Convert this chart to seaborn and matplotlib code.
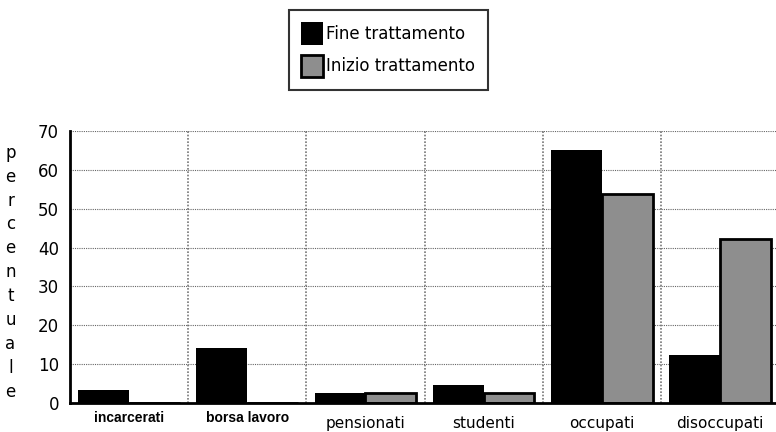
import matplotlib
matplotlib.use('Agg')
import matplotlib.pyplot as plt
import seaborn as sns
import pandas as pd
import numpy as np
from matplotlib.patches import Patch

categorie = ['incarcerati', 'borsa lavoro', 'pensionati', 'studenti', 'occupati', 'disoccupati']
fine = [3.3, 14.2, 2.6, 4.6, 65.0, 12.3]
inizio = [0, 0, 2.5, 2.5, 53.8, 42.1]
serie = ['Fine trattamento', 'Inizio trattamento']

df = pd.DataFrame({
    'categoria': categorie * 2,
    'valore': fine + inizio,
    'serie': [serie[0]] * 6 + [serie[1]] * 6,
})

sns.set_style('white')
plt.rcParams['font.family'] = ['DejaVu Sans']
plt.rcParams['text.color'] = 'black'
plt.rcParams['xtick.color'] = 'black'
plt.rcParams['ytick.color'] = 'black'

fig = plt.figure(figsize=(7.76, 4.32), dpi=100)
ax = fig.add_axes([0.0902, 0.0671, 0.9137, 0.6297])

sns.barplot(data=df, x='categoria', y='valore', hue='serie', order=categorie,
            hue_order=serie, palette=['black', '#8e8e8e'], width=0.86,
            saturation=1, ax=ax, legend=False)

# bordi: neri senza bordo, grigi con bordo nero
for bar, s in zip(ax.patches, [serie[0]] * 6 + [serie[1]] * 6):
    bar.set_edgecolor('black')
    bar.set_linewidth(0 if s == serie[0] else 2)

ax.set_xlim(-0.5, 5.5)
ax.set_ylim(0, 70)
ax.set_yticks(range(0, 80, 10))
ax.tick_params(axis='y', direction='out', length=5, width=1.5, labelsize=12, pad=3)

ax.set_xticks(range(6))
ax.set_xticklabels(categorie)
ax.tick_params(axis='x', which='major', length=0, pad=9, labelsize=11)
ax.set_xticks(np.arange(-0.5, 6, 1), minor=True)
ax.tick_params(axis='x', which='minor', direction='out', length=8, width=2)
for lab in ax.get_xticklabels()[:2]:
    lab.set_fontfamily('Liberation Sans')
    lab.set_fontweight('bold')
    lab.set_fontsize(10)
    lab.set_y(0.015)

ax.grid(axis='y', which='major', color='#666666', linestyle=(0, (1, 1)), linewidth=0.8)
ax.grid(axis='x', which='minor', color='#777777', linestyle=(0, (1, 1)), linewidth=1.2)
ax.grid(axis='x', which='major', visible=False)
ax.set_axisbelow(True)

for side in ['top', 'right']:
    ax.spines[side].set_visible(False)
for side in ['left', 'bottom']:
    ax.spines[side].set_linewidth(2)
    ax.spines[side].set_color('black')

ax.set_xlabel('')
ax.set_ylabel('')
fig.text(0.0135, 0.37, '\n'.join('percentuale'), ha='center', va='center',
         fontsize=12, linespacing=1.42)

handles = [Patch(facecolor='black', edgecolor='black', linewidth=0),
           Patch(facecolor='#8e8e8e', edgecolor='black', linewidth=2)]
leg = fig.legend(handles, serie, loc='upper center', bbox_to_anchor=(0.5, 0.978),
                 frameon=True, fancybox=False, fontsize=12, handlelength=1.3,
                 handleheight=1.7, handletextpad=0.2, borderpad=0.75,
                 labelspacing=0.6, borderaxespad=0)
leg.get_frame().set_edgecolor('black')
leg.get_frame().set_linewidth(1.5)

fig.savefig('out.png', dpi=100)
